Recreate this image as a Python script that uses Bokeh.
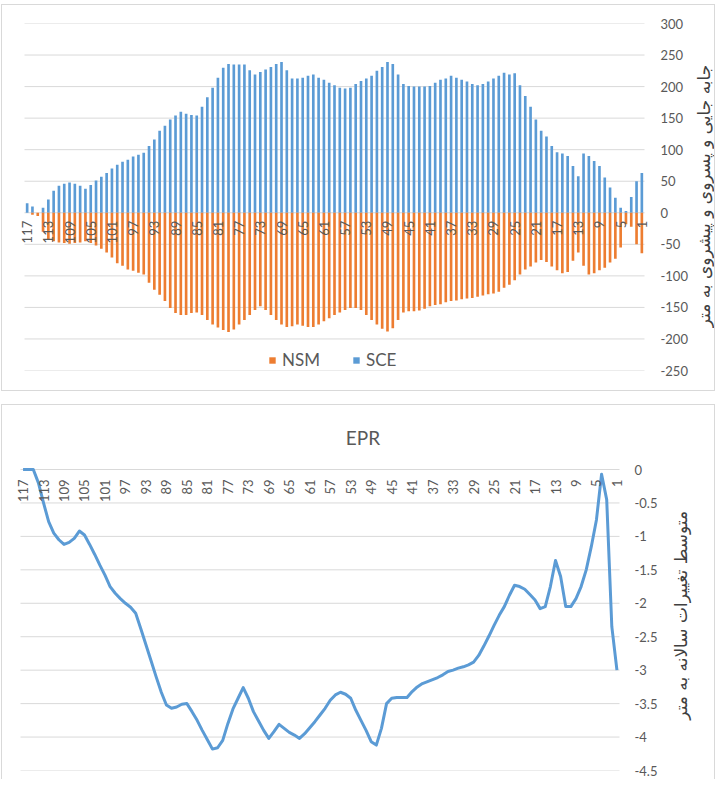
import math
from bokeh.plotting import figure
from bokeh.models import Range1d, FixedTicker, Legend, LegendItem
from bokeh.layouts import column, row
from bokeh.embed import file_html
from bokeh.resources import INLINE
from bokeh.core.properties import value

# ---------------- data ----------------
transects = list(range(117, 0, -1))          # categories, left (117) to right (1)
label_transects = list(range(117, 0, -4))     # category tick labels shown

sce = [15, 10, 0, 8, 21, 35, 43, 46, 48, 46,
       43, 38, 44, 51, 57, 63, 70, 76, 81, 84,
       89, 92, 95, 106, 116, 130, 138, 148, 154, 160,
       157, 155, 154, 168, 183, 198, 214, 230, 236, 235,
       235, 235, 226, 219, 223, 227, 231, 236, 239, 226,
       213, 213, 214, 217, 219, 214, 211, 206, 202, 198,
       197, 198, 204, 209, 213, 217, 225, 231, 239, 236,
       219, 204, 201, 200, 200, 200, 201, 206, 211, 213,
       217, 214, 211, 208, 204, 202, 204, 208, 213, 217,
       222, 219, 221, 202, 185, 168, 148, 130, 121, 106,
       96, 94, 90, 74, 58, 94, 90, 82, 74, 56,
       40, 24, 8, 3, 25, 50, 63]

nsm = [0, -3, -5, -30, -42, -45, -47, -48, -49, -48,
       -47, -45, -48, -52, -57, -63, -71, -80, -84, -90,
       -92, -95, -98, -111, -122, -130, -140, -151, -159, -162,
       -162, -159, -158, -162, -170, -177, -182, -186, -189, -185,
       -177, -170, -162, -154, -148, -154, -162, -170, -177, -181,
       -180, -177, -179, -181, -181, -177, -172, -167, -162, -158,
       -154, -151, -151, -154, -162, -170, -177, -184, -188, -183,
       -170, -158, -156, -156, -155, -152, -148, -146, -145, -142,
       -140, -139, -137, -136, -135, -133, -131, -129, -128, -125,
       -119, -114, -107, -98, -90, -85, -79, -75, -78, -85,
       -91, -96, -94, -76, -63, -84, -98, -96, -91, -87,
       -79, -73, -55, -18, -22, -50, -64]

epr = [0, 0, 0, -0.2, -0.5, -0.78, -0.95, -1.05, -1.12, -1.09,
       -1.03, -0.92, -0.98, -1.12, -1.27, -1.43, -1.58, -1.75, -1.85, -1.93,
       -2.0, -2.06, -2.15, -2.38, -2.62, -2.86, -3.1, -3.33, -3.52, -3.57,
       -3.55, -3.51, -3.5, -3.62, -3.75, -3.9, -4.04, -4.18, -4.16, -4.05,
       -3.8, -3.58, -3.42, -3.26, -3.42, -3.62, -3.76, -3.9, -4.02, -3.92,
       -3.81, -3.87, -3.93, -3.97, -4.02, -3.95, -3.86, -3.77, -3.67, -3.57,
       -3.45, -3.37, -3.33, -3.36, -3.42, -3.6, -3.75, -3.9, -4.07, -4.12,
       -3.87, -3.5, -3.42, -3.41, -3.41, -3.41, -3.32, -3.25, -3.2, -3.17,
       -3.14, -3.11, -3.07, -3.02, -3.0, -2.97, -2.95, -2.92, -2.88, -2.78,
       -2.64, -2.49, -2.33, -2.18, -2.05, -1.88, -1.73, -1.75, -1.79, -1.87,
       -1.95, -2.08, -2.05, -1.75, -1.36, -1.6, -2.05, -2.05, -1.93, -1.75,
       -1.5, -1.15, -0.75, -0.07, -0.45, -2.35, -3.0]

top_ticks = [-250, -200, -150, -100, -50, 0, 50, 100, 150, 200, 250, 300]
bottom_ticks = [-4.5, -4, -3.5, -3, -2.5, -2, -1.5, -1, -0.5, 0]

top_ylabel = "جابه جایی و پسروی و پیشروی به متر"
bottom_ylabel = "متوسط تغییرات سالانه به متر"
bottom_title = "EPR"
series_names = ["NSM", "SCE"]

# ---------------- style ----------------
BLUE = "#5B9BD5"
ORANGE = "#ED7D31"
GRID = "#D9D9D9"
TXT = "#595959"
TITLE_TXT = "#404040"
FONT = "Lato"
FA_FONT = "DejaVu Sans"
PADL, PADR = 10, 8          # extra frame room so edge category labels are not clipped
N = len(transects)


def style_axis(ax, ticks, standoff):
    ax.ticker = FixedTicker(ticks=ticks)
    ax.major_label_overrides = {t: ("%g" % t) for t in ticks}
    ax.axis_line_color = None
    ax.major_tick_line_color = None
    ax.minor_tick_line_color = None
    ax.major_tick_out = 0
    ax.major_tick_in = 0
    ax.major_label_standoff = standoff
    ax.major_label_text_font = FONT
    ax.major_label_text_font_size = "13px"
    ax.major_label_text_color = TXT


def grid_segments(p, ticks):
    p.segment(x0=[transects[0] + 0.5] * len(ticks), x1=[transects[-1] - 0.5] * len(ticks),
              y0=ticks, y1=ticks, line_color=GRID, line_width=1)


def side_title(text, w, h, cx, cy_from_top, size):
    t = figure(width=w, height=h, x_range=Range1d(0, w), y_range=Range1d(0, h),
               output_backend="svg", toolbar_location=None,
               x_axis_location=None, y_axis_location=None, min_border=0)
    t.outline_line_color = None
    t.grid.visible = False
    t.text(x=[cx], y=[h - cy_from_top], text=[text], angle=math.pi / 2,
           text_align="center", text_baseline="middle",
           text_font=value(FA_FONT), text_font_size=size, text_color=TITLE_TXT)
    return t


# ---------------- top chart ----------------
W1, H1 = 690, 385
F1_LEFT, F1_TOP, F1_BOTTOM = 22, 18, 20     # frame position (canvas px) of the category span
F1_W = 620
frame1_h = H1 - F1_TOP - F1_BOTTOM
pxcat1 = F1_W / N
p1 = figure(width=W1, height=H1,
            x_range=Range1d(transects[0] + 0.5 + PADL / pxcat1, transects[-1] - 0.5 - PADR / pxcat1),
            y_range=Range1d(top_ticks[0], top_ticks[-1]),
            output_backend="svg", toolbar_location=None,
            x_axis_location=None, y_axis_location="right",
            min_border_left=F1_LEFT - PADL, min_border_right=W1 - (F1_LEFT + F1_W + PADR),
            min_border_top=F1_TOP, min_border_bottom=F1_BOTTOM)
p1.outline_line_color = None
p1.grid.visible = False
style_axis(p1.yaxis[0], top_ticks, 8)
grid_segments(p1, top_ticks)

r_sce = p1.vbar(x=transects, top=sce, width=0.5, fill_color=BLUE, line_color=None)
r_nsm = p1.vbar(x=transects, top=nsm, width=0.5, fill_color=ORANGE, line_color=None)

units_per_px1 = (top_ticks[-1] - top_ticks[0]) / frame1_h
p1.text(x=label_transects, y=[-8 * units_per_px1] * len(label_transects),
        text=[str(t) for t in label_transects], angle=math.pi / 2,
        text_align="right", text_baseline="middle",
        text_font=value(FONT), text_font_size="13px", text_color=TXT)

legend = Legend(items=[LegendItem(label=series_names[0], renderers=[r_nsm]),
                       LegendItem(label=series_names[1], renderers=[r_sce])],
                orientation="horizontal", location=(254, 0),
                background_fill_alpha=0, border_line_color=None,
                margin=0, padding=0, spacing=32, label_height=18,
                glyph_width=8, glyph_height=8, label_standoff=6,
                label_text_font=FONT, label_text_font_size="17px", label_text_color=TXT)
p1.add_layout(legend)

t1 = side_title(top_ylabel, 22, H1, 11.5, 191.5, "17px")
panel1 = row(p1, t1, spacing=0)
panel1.margin = (4, 0, 0, 1)
panel1.styles = {"border": "1px solid #D9D9D9"}

# ---------------- bottom chart ----------------
W2, H2 = 662, 374
F2_LEFT, F2_ZERO, F2_BOTTOM = 18, 64, 9      # frame left, canvas y of the 0 line, bottom margin
F2_W = 599
frame2_h = H2 - F2_BOTTOM
plot2_h = frame2_h - F2_ZERO
pxcat2 = F2_W / N
units_per_px2 = (bottom_ticks[-1] - bottom_ticks[0]) / plot2_h
p2 = figure(width=W2, height=H2,
            x_range=Range1d(transects[0] + 0.5 + PADL / pxcat2, transects[-1] - 0.5 - PADR / pxcat2),
            y_range=Range1d(bottom_ticks[0], bottom_ticks[-1] + F2_ZERO * units_per_px2),
            output_backend="svg", toolbar_location=None,
            x_axis_location=None, y_axis_location="right",
            min_border_left=F2_LEFT - PADL, min_border_right=W2 - (F2_LEFT + F2_W + PADR),
            min_border_top=0, min_border_bottom=F2_BOTTOM)
p2.outline_line_color = None
p2.grid.visible = False
style_axis(p2.yaxis[0], bottom_ticks, 7)
grid_segments(p2, bottom_ticks)

p2.line(x=transects, y=epr, line_color=BLUE, line_width=3, line_join="round")

p2.text(x=label_transects, y=[-10 * units_per_px2] * len(label_transects),
        text=[str(t) for t in label_transects], angle=math.pi / 2,
        text_align="right", text_baseline="middle",
        text_font=value(FONT), text_font_size="13px", text_color=TXT)

# chart title, centred on the chart area (above the plot)
p2.text(x=[(transects[0] + transects[-1]) / 2 - 43 / pxcat2], y=[(F2_ZERO - 32) * units_per_px2],
        text=[bottom_title], text_align="center", text_baseline="middle",
        text_font=value(FONT), text_font_size="19px", text_color=TXT)

t2 = side_title(bottom_ylabel, 50, H2, 16, 215, "17px")
panel2 = row(p2, t2, spacing=0)
panel2.margin = (13, 0, 0, 1)
panel2.styles = {"border-top": "1px solid #D9D9D9", "border-left": "1px solid #D9D9D9",
                 "border-right": "1px solid #D9D9D9"}

layout = column(panel1, panel2, spacing=0)
open("out.html", "w").write(file_html(layout, INLINE))
